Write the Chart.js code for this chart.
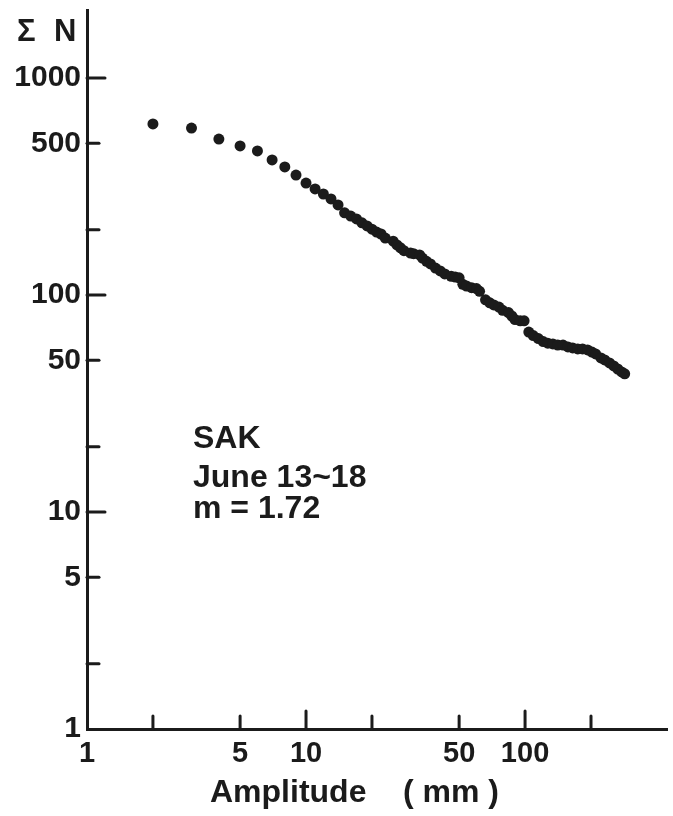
<!DOCTYPE html>
<html>
<head>
<meta charset="utf-8">
<script src="https://cdn.jsdelivr.net/npm/chart.js@4/dist/chart.umd.min.js"></script>
<style>
    html, body { margin: 0; padding: 0; background: #ffffff; }
    canvas { display: block; }
</style>
</head>
<body>
<canvas id="chart-sak" width="673" height="816"></canvas>
<script>
// Amplitud (mm) y número acumulado de eventos
const amplitud = [2, 3, 4, 5, 6, 7, 8, 9, 10, 11, 12, 13, 14, 15, 16, 17, 18, 19, 20, 21, 22, 23,
    25, 26, 27, 28, 30, 31, 33, 34, 35.5, 37, 39, 41, 43, 46, 48, 50,
    52, 54, 57, 60, 62,
    66, 69, 72, 76, 79, 84, 87, 90, 95, 99,
    104, 109, 115, 121, 127, 134, 141, 149, 157, 165, 174, 183, 193, 202, 210, 222, 231, 243, 254, 265, 276, 285];
const sumaN = [614, 588, 523, 486, 461, 419, 389, 357, 328, 308, 292, 277, 260, 239, 231, 224, 215, 208, 201, 195, 191, 183,
    177, 170, 165, 160, 156, 155, 153, 148, 143, 139, 133, 129, 125, 122, 121, 120,
    112, 110, 108, 107, 104,
    95, 92, 90, 88, 85, 83, 80, 77, 76, 76,
    67.5, 65, 63, 61, 60, 59.5, 58.8, 58.8, 57.6, 57, 56.4, 56.4, 55.8, 54.6, 53.5, 51.3, 50.2, 48.6, 47.1, 45.6, 44.2, 43.3];

// Marcas de los ejes
const xMarcas = [1, 2, 5, 10, 20, 50, 100, 200];
const xEtiquetas = [1, 5, 10, 50, 100];
const yMarcas = [1, 2, 5, 10, 20, 50, 100, 200, 500, 1000];
const yEtiquetas = [1, 5, 10, 50, 100, 500, 1000];
const decadas = [10, 100, 1000];

const nota = ['SAK', 'June 13~18', 'm = 1.72'];

document.addEventListener('DOMContentLoaded', () => {

    const tinta = '#1b1b1b';
    const fuente = '"Liberation Sans", Arial, sans-serif';

    // marcas hacia adentro y textos sueltos
    const marcasPlugin = {
        id: 'marcas',
        afterDraw(chart) {
            const { ctx, chartArea, scales } = chart;
            ctx.save();
            ctx.strokeStyle = tinta;
            ctx.lineWidth = 3;
            ctx.lineCap = 'round';

            yMarcas.forEach((v) => {
                if (v === 1) return;
                const py = scales.y.getPixelForValue(v);
                const largo = decadas.includes(v) ? 18 : 12;
                ctx.beginPath();
                ctx.moveTo(chartArea.left, py);
                ctx.lineTo(chartArea.left + largo, py);
                ctx.stroke();
            });

            xMarcas.forEach((v) => {
                if (v === 1) return;
                const px = scales.x.getPixelForValue(v);
                const largo = decadas.includes(v) ? 18 : 13;
                ctx.beginPath();
                ctx.moveTo(px, chartArea.bottom);
                ctx.lineTo(px, chartArea.bottom - largo);
                ctx.stroke();
            });

            ctx.fillStyle = tinta;
            ctx.textAlign = 'left';
            ctx.textBaseline = 'alphabetic';

            // título del eje y
            ctx.font = 'bold 31px ' + fuente;
            ctx.fillText('Σ', 17, 41);
            ctx.fillText('N', 54, 41);

            // título del eje x
            ctx.font = 'bold 32px ' + fuente;
            ctx.fillText('Amplitude', 210, 802);
            ctx.fillText('( mm )', 403, 802);

            // nota
            ctx.font = 'bold 32px ' + fuente;
            ctx.fillText(nota[0], 193, 448);
            ctx.fillText(nota[1], 193, 487);
            ctx.fillText(nota[2], 193, 518);

            ctx.restore();
        }
    };

    const puntos = amplitud.map((a, i) => ({ x: a, y: sumaN[i] }));

    const ctx1 = document.getElementById('chart-sak');
    const chart1 = new Chart(ctx1, {
        type: 'scatter',
        data: {
            datasets: [{
                data: puntos,
                pointRadius: 5.5,
                pointHoverRadius: 5.5,
                backgroundColor: tinta,
                borderWidth: 0
            }]
        },
        options: {
            responsive: false,
            animation: false,
            events: [],
            layout: { padding: { top: 10, right: 3, left: 0, bottom: 0 } },
            plugins: {
                legend: { display: false },
                tooltip: { enabled: false }
            },
            scales: {
                x: {
                    type: 'logarithmic',
                    min: 1,
                    max: 447,
                    afterBuildTicks: (s) => { s.ticks = xMarcas.map((v) => ({ value: v })); },
                    afterFit: (s) => { s.height = 87; s.paddingLeft = 0; s.paddingRight = 0; },
                    grid: { display: false, drawTicks: false },
                    border: { display: true, color: tinta, width: 3 },
                    ticks: {
                        autoSkip: false,
                        maxRotation: 0,
                        padding: 8,
                        color: tinta,
                        font: { family: fuente, size: 29, weight: 'bold' },
                        callback: (v) => xEtiquetas.includes(v) ? String(v) : ''
                    }
                },
                y: {
                    type: 'logarithmic',
                    min: 1,
                    max: 2057,
                    afterBuildTicks: (s) => { s.ticks = yMarcas.map((v) => ({ value: v })); },
                    afterFit: (s) => { s.width = 87; s.paddingTop = 0; s.paddingBottom = 0; },
                    grid: { display: false, drawTicks: false },
                    border: { display: true, color: tinta, width: 3 },
                    ticks: {
                        autoSkip: false,
                        padding: 6,
                        color: tinta,
                        font: { family: fuente, size: 30, weight: 'bold' },
                        callback: (v) => yEtiquetas.includes(v) ? String(v) : ''
                    }
                }
            }
        },
        plugins: [marcasPlugin]
    });

});
</script>
</body>
</html>
